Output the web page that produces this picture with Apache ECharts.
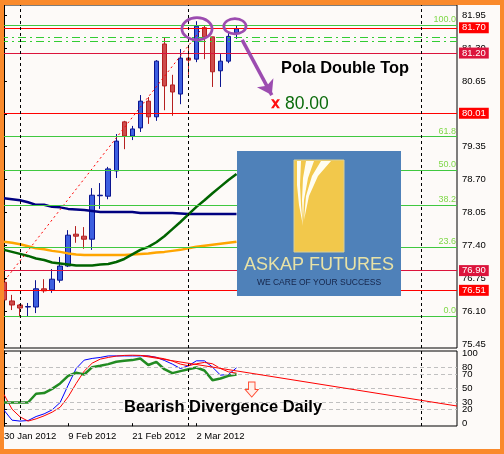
<!DOCTYPE html>
<html>
<head>
<meta charset="utf-8">
<script src="https://cdn.jsdelivr.net/npm/echarts@6/dist/echarts.min.js"></script>
<style>
  html, body { margin: 0; padding: 0; background: #fdfaf8; }
  #chart { width: 504px; height: 454px; }
</style>
</head>
<body>
<div id="chart"></div>
<script>
// daily candles [open, close, low, high], 30 Jan - 9 Mar 2012
const candles = [
  [76.67, 76.32, 76.16, 76.75], [76.30, 76.22, 76.12, 76.42], [76.22, 76.16, 75.98, 76.24],
  [76.18, 76.19, 76.00, 76.26], [76.18, 76.54, 76.06, 76.71], [76.54, 76.50, 76.46, 76.73],
  [76.52, 76.73, 76.46, 76.93], [76.71, 76.99, 76.66, 77.17], [76.99, 77.60, 76.97, 77.70],
  [77.62, 77.58, 77.45, 77.78], [77.58, 77.52, 77.33, 77.76], [77.52, 78.39, 77.31, 78.53],
  [78.38, 78.39, 78.12, 78.63], [78.37, 78.91, 78.31, 78.95], [78.87, 79.46, 78.73, 79.60],
  [79.84, 79.56, 79.30, 79.86], [79.56, 79.70, 79.48, 79.76], [79.72, 80.25, 79.64, 80.37],
  [80.25, 79.94, 79.80, 80.33], [79.94, 81.04, 79.86, 81.06], [81.38, 80.55, 80.07, 81.50],
  [80.57, 80.43, 79.96, 80.77], [80.39, 81.10, 80.19, 81.28], [81.10, 81.06, 80.77, 81.36],
  [81.08, 81.73, 81.02, 81.83], [81.70, 81.52, 81.08, 81.75], [81.52, 80.83, 80.53, 81.52],
  [80.85, 81.04, 80.53, 81.18], [81.04, 81.53, 81.00, 81.60], [81.60, 81.68, 81.48, 81.74]
];

// moving averages
const maNavy = [78.33, 78.31, 78.29, 78.25, 78.20, 78.20, 78.16, 78.15, 78.12, 78.11,
  78.10, 78.08, 78.06, 78.06, 78.06, 78.06, 78.06, 78.04, 78.04, 78.04,
  78.04, 78.04, 78.03, 78.02, 78.02, 78.02, 78.02, 78.02, 78.02, 78.02];
const maOrange = [77.47, 77.45, 77.42, 77.38, 77.34, 77.32, 77.29, 77.27, 77.24, 77.22,
  77.21, 77.21, 77.21, 77.21, 77.21, 77.21, 77.22, 77.23, 77.24, 77.26,
  77.27, 77.29, 77.31, 77.34, 77.37, 77.39, 77.41, 77.43, 77.45, 77.47];
const maGreen = [77.31, 77.27, 77.23, 77.19, 77.14, 77.11, 77.06, 77.04, 77.02, 77.00,
  77.00, 77.00, 77.02, 77.03, 77.07, 77.13, 77.22, 77.31, 77.37, 77.46,
  77.58, 77.72, 77.86, 78.01, 78.16, 78.29, 78.43, 78.56, 78.69, 78.81];

// oscillator panel
const oscBlue = [18.6, 4.3, 3, 3.8, 9.5, 13.3, 19, 29.5, 54.3, 78,
  90, 92.4, 93.8, 96, 96, 96, 96, 96, 96, 94,
  89.5, 84.3, 78, 81.9, 89, 89, 80, 68.6, 69.5, 79];
const oscRed = [41, 20, 9, 3, 6.2, 10.5, 15.7, 22.8, 37.6, 56.7,
  74.3, 85.7, 91.4, 93.8, 95.7, 96.7, 97, 96.7, 95.7, 93.8,
  91.9, 88.6, 84.3, 81.9, 84.8, 86.7, 84.8, 78, 73.3, 71.4];
const oscGreen = [29.5, 29.5, 29.5, 29.5, 42, 43, 49, 56.7, 67.6, 72,
  69.5, 80, 82, 84.3, 87.6, 89, 90, 92.4, 83, 87.6,
  77, 71.4, 74.3, 77, 79.5, 75.2, 61.4, 63.8, 67.6, 69.5];

const slotCount = 57;
const dateIndex = [0, 8, 16, 24];
const dateText = ['30 Jan 2012', '9 Feb 2012', '21 Feb 2012', '2 Mar 2012'];
const priceTicks = [75.45, 76.10, 76.75, 77.40, 78.05, 78.70, 79.35, 80.00, 80.65, 81.30, 81.95];
const oscTicks = [0, 20, 30, 50, 70, 80, 100];
const oscLevels = [20, 30, 50, 70, 80];
const fibPrices = [81.75, 79.55, 78.88, 78.20, 77.36, 76.00];
const fibNames = ['100.0', '61.8', '50.0', '38.2', '23.6', '0.0'];
const redLevels = [81.70, 81.20, 80.01, 76.90, 76.51];
const redColors = ['#ff0000', '#dc143c', '#ff0000', '#dc143c', '#ff0000'];
const channelLevels = [81.52, 81.44];
const separators = [2, 23, 52];
const fibTrend = [[-3.4, 76.00], [25, 81.75]];
const arrowPath = [[29.7, 81.46], [33.4, 80.37]];
const topCircles = [[24.07, 81.68], [28.8, 81.73]];
const circleSizes = [[33, 25], [25, 18]];
const targetMark = [33.86, 80.20];
const oscTrend = [[17.3, 95.9], [56.5, 24.5]];
const oscArrow = [30.9, 48];

const FONT = '"Liberation Sans", Arial, sans-serif';
const PURPLE = '#9c4cb0';
const slots = Array.from({ length: slotCount }, (_, i) => {
  const k = dateIndex.indexOf(i);
  return k >= 0 ? dateText[k] : '';
});
const showDate = (i) => dateIndex.includes(i);

const horizLines = [];
fibPrices.forEach((p, i) => horizLines.push({
  yAxis: p,
  lineStyle: { color: '#40c840', width: 1, type: 'solid' },
  label: { show: true, position: 'insideEndTop', formatter: fibNames[i], color: '#7fd848',
    fontSize: 9, fontFamily: FONT, distance: 1 }
}));
channelLevels.forEach(p => horizLines.push({
  yAxis: p,
  lineStyle: { color: '#33cc33', width: 1, type: [8, 4, 2, 4] },
  label: { show: false }
}));
redLevels.forEach((p, i) => horizLines.push({
  yAxis: p,
  lineStyle: { color: redColors[i], width: 1, type: 'solid' },
  label: { show: true, position: 'end', formatter: p.toFixed(2), color: '#fff',
    backgroundColor: redColors[i], padding: [1, 3, 0, 3], distance: 2, fontSize: 9.5, fontFamily: FONT }
}));

// hand-drawn ellipse outline as a filled ring (outer cw, inner ccw)
function ringSymbol(w, h, t) {
  const rx = 10 - t / (w / 20), ry = 10 - t / (h / 20);
  return 'path://M0,10 A10,10 0 1,1 20,10 A10,10 0 1,1 0,10 Z ' +
    `M${10 - rx},10 A${rx},${ry} 0 1,0 ${10 + rx},10 A${rx},${ry} 0 1,0 ${10 - rx},10 Z`;
}
const crossMark = 'path://M0,0 L3,0 L5,3 L7,0 L10,0 L6.5,5 L10,10 L7,10 L5,7 L3,10 L0,10 L3.5,5 Z';
const hollowDown = 'path://M3,0 L9,0 L9,7 L12,7 L6,14 L0,7 L3,7 Z';

const chart = echarts.init(document.getElementById('chart'));

const option = {
  animation: false,
  backgroundColor: '#fdfaf8',
  grid: [
    { left: 0, top: 5, width: 457, height: 343, show: true, borderColor: '#000', borderWidth: 1,
      backgroundColor: '#fdfaf8' },
    { left: 0, top: 351, width: 457, height: 75, show: true, borderColor: '#000', borderWidth: 1,
      backgroundColor: '#fdfaf8' }
  ],
  xAxis: [
    { type: 'category', gridIndex: 0, data: slots, boundaryGap: true, show: false },
    { type: 'category', gridIndex: 1, data: slots, boundaryGap: true,
      axisLine: { show: false },
      axisTick: { show: true, interval: showDate, alignWithLabel: true, length: 3,
        lineStyle: { color: '#000' } },
      axisLabel: { interval: showDate, align: 'left', color: '#000', fontSize: 9.5,
        fontFamily: FONT, margin: 5 } },
    { type: 'value', gridIndex: 0, min: -0.5, max: 56.5, show: false },
    { type: 'value', gridIndex: 1, min: -0.5, max: 56.5, show: false }
  ],
  yAxis: [
    { type: 'value', gridIndex: 0, position: 'right', min: 75.37, max: 82.15,
      splitLine: { show: false },
      axisLine: { show: true, lineStyle: { color: '#000' } },
      axisTick: { show: true, customValues: priceTicks, length: 3, lineStyle: { color: '#000' } },
      axisLabel: { customValues: priceTicks, formatter: v => v.toFixed(2), color: '#000',
        fontSize: 9.5, fontFamily: FONT, margin: 5 } },
    { type: 'value', gridIndex: 1, position: 'right', min: -4, max: 103,
      splitLine: { show: false },
      axisLine: { show: true, lineStyle: { color: '#000' } },
      axisTick: { show: true, customValues: oscTicks, length: 3, lineStyle: { color: '#000' } },
      axisLabel: { customValues: oscTicks, color: '#000', fontSize: 9.5, fontFamily: FONT, margin: 5 } }
  ],
  series: [
    {
      type: 'candlestick', xAxisIndex: 0, yAxisIndex: 0, data: candles, barWidth: 5,
      itemStyle: { color: '#3d5fe0', color0: '#cd4c4c', borderColor: '#0b1590',
        borderColor0: '#b52020', borderWidth: 1 },
      markLine: { silent: true, symbol: ['none', 'none'], label: { show: false }, data: horizLines }
    },
    { type: 'line', xAxisIndex: 0, yAxisIndex: 0, data: maNavy, showSymbol: false,
      lineStyle: { color: '#000080', width: 2.5 } },
    { type: 'line', xAxisIndex: 0, yAxisIndex: 0, data: maOrange, showSymbol: false,
      lineStyle: { color: '#ffa500', width: 2.5 } },
    { type: 'line', xAxisIndex: 0, yAxisIndex: 0, data: maGreen, showSymbol: false,
      lineStyle: { color: '#006400', width: 2.5 } },
    {
      // fibo trend line + period separators
      type: 'line', xAxisIndex: 2, yAxisIndex: 0, data: fibTrend, showSymbol: false,
      lineStyle: { color: '#ff0000', width: 1, type: [2, 3] },
      markLine: { silent: true, symbol: ['none', 'none'], label: { show: false },
        lineStyle: { color: '#000', width: 1, type: [3, 3] },
        data: separators.map(x => ({ xAxis: x })) }
    },
    {
      type: 'line', xAxisIndex: 2, yAxisIndex: 0, data: [],
      markLine: { silent: true, symbol: ['none', 'arrow'], symbolSize: 14, label: { show: false },
        lineStyle: { color: PURPLE, width: 3.5, type: 'solid' },
        data: [[{ coord: arrowPath[0] }, { coord: arrowPath[1] }]] }
    },
    {
      type: 'scatter', xAxisIndex: 2, yAxisIndex: 0,
      data: topCircles.map((c, i) => ({
        value: c, symbolSize: circleSizes[i],
        symbol: ringSymbol(circleSizes[i][0], circleSizes[i][1], 2.8)
      })),
      itemStyle: { color: PURPLE, opacity: 1 }, z: 5
    },
    {
      type: 'scatter', xAxisIndex: 2, yAxisIndex: 0, symbol: crossMark, symbolSize: 9,
      data: [targetMark], itemStyle: { color: '#ff1010', opacity: 1 }, z: 5
    },
    { type: 'line', xAxisIndex: 1, yAxisIndex: 1, data: oscBlue, showSymbol: false,
      lineStyle: { color: '#0000ff', width: 1 } },
    { type: 'line', xAxisIndex: 1, yAxisIndex: 1, data: oscRed, showSymbol: false,
      lineStyle: { color: '#ff0000', width: 1 } },
    { type: 'line', xAxisIndex: 1, yAxisIndex: 1, data: oscGreen, showSymbol: false,
      lineStyle: { color: '#228b22', width: 2.5 } },
    {
      type: 'line', xAxisIndex: 3, yAxisIndex: 1, data: [],
      markLine: { silent: true, symbol: ['none', 'none'], label: { show: false },
        data: [
          ...oscLevels.map(v => ({ yAxis: v, lineStyle: { color: '#c0c0c0', width: 1, type: [4, 3] } })),
          ...separators.map(x => ({ xAxis: x, lineStyle: { color: '#000', width: 1, type: [3, 3] } })),
          [{ coord: oscTrend[0], lineStyle: { color: '#ff0000', width: 1, type: 'solid' } }, { coord: oscTrend[1] }]
        ] }
    },
    {
      type: 'scatter', xAxisIndex: 3, yAxisIndex: 1, symbol: hollowDown, symbolSize: [13, 15],
      data: [oscArrow], itemStyle: { color: '#fff0ea', borderColor: '#ff4a30', borderWidth: 1, opacity: 1 }, z: 5
    }
  ],
  graphic: [
    // logo
    { type: 'rect', z: 50, shape: { x: 237, y: 151, width: 164, height: 145 }, style: { fill: '#4f81b9' } },
    { type: 'rect', z: 51, shape: { x: 294, y: 160, width: 50, height: 92 },
      style: { fill: '#f2c84b', stroke: '#d9cf98', lineWidth: 1 } },
    { type: 'polygon', z: 52, shape: { points: [[297, 161], [301, 161], [300, 185], [301, 205], [303, 226], [299, 205], [297, 185]] },
      style: { fill: '#fffdf0' } },
    { type: 'polygon', z: 52, shape: { points: [[306, 161], [314, 161], [308, 178], [304, 200], [303, 222], [302, 200], [303, 178]] },
      style: { fill: '#fffdf0' } },
    { type: 'polygon', z: 52, shape: { points: [[321, 161], [331, 161], [318, 176], [309, 196], [304, 220], [306, 196], [312, 176]] },
      style: { fill: '#fffdf0' } },
    { type: 'text', z: 52, x: 319, y: 265,
      style: { text: 'ASKAP FUTURES', fill: '#e8e2a6', font: '18px ' + FONT, align: 'center', verticalAlign: 'middle' } },
    { type: 'text', z: 52, x: 319, y: 282.5,
      style: { text: 'WE CARE OF YOUR SUCCESS', fill: '#15254a', font: '8.5px ' + FONT, align: 'center', verticalAlign: 'middle' } },
    // annotations
    { type: 'text', z: 60, x: 281, y: 68,
      style: { text: 'Pola Double Top', fill: '#000', font: 'bold 16.4px ' + FONT, align: 'left', verticalAlign: 'middle' } },
    { type: 'text', z: 60, x: 285, y: 104.5,
      style: { text: '80.00', fill: '#0b6b0b', font: '17.5px ' + FONT, align: 'left', verticalAlign: 'middle' } },
    { type: 'text', z: 60, x: 124, y: 407,
      style: { text: 'Bearish Divergence Daily', fill: '#000', font: 'bold 16.5px ' + FONT, align: 'left', verticalAlign: 'middle' } },
    // orange frame
    { type: 'rect', z: 100, shape: { x: 0, y: 0, width: 504, height: 5 }, style: { fill: '#fa8a2c' } },
    { type: 'rect', z: 100, shape: { x: 0, y: 449, width: 504, height: 5 }, style: { fill: '#fa8a2c' } },
    { type: 'rect', z: 100, shape: { x: 0, y: 0, width: 4, height: 454 }, style: { fill: '#fa8a2c' } },
    { type: 'rect', z: 100, shape: { x: 500, y: 0, width: 4, height: 454 }, style: { fill: '#fa8a2c' } }
  ]
};

chart.setOption(option);
</script>
</body>
</html>
